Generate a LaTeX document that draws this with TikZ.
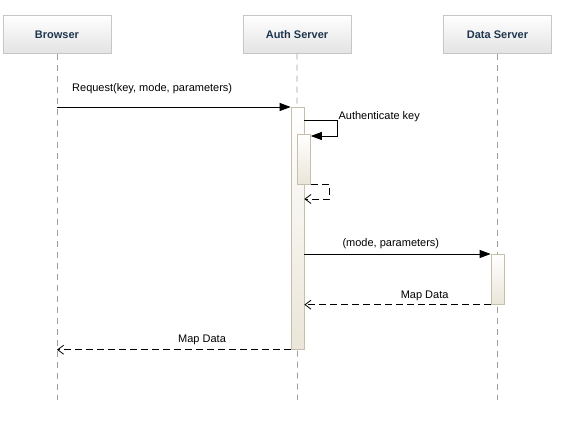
\documentclass[tikz,border=0pt]{standalone}
\usepackage{fontspec}
\setmainfont{Liberation Sans}
\usetikzlibrary{arrows.meta}
\usetikzlibrary{calc}
\usetikzlibrary{positioning}
\definecolor{headborder}{rgb}{0.78, 0.78, 0.78}
\definecolor{headbottom}{rgb}{0.89, 0.89, 0.89}
\definecolor{headtext}{rgb}{0.12, 0.21, 0.31}
\definecolor{barborder}{rgb}{0.78, 0.75, 0.68}
\definecolor{barbottom}{rgb}{0.92, 0.90, 0.85}
\definecolor{lifegrey}{rgb}{0.62, 0.62, 0.62}

\begin{document}
\begin{tikzpicture}[x=1pt, y=-1pt,
	header/.style={draw=headborder, top color=white, bottom color=headbottom, minimum width=108pt, minimum height=38pt, inner sep=0pt, text=headtext, font=\fontsize{11}{13}\selectfont\bfseries},
	lifeline/.style={lifegrey, line width=0.7pt, dash pattern=on 6pt off 5pt},
	actbar/.style={draw=barborder, line width=0.7pt, top color=white, bottom color=barbottom, minimum width=13pt, inner sep=0pt, anchor=north},
	msg/.style={black, line width=0.8pt, -{Triangle[length=11pt, width=8pt]}},
	reply/.style={black, line width=0.8pt, dash pattern=on 7pt off 4pt, -{Straight Barb[length=6pt, width=9pt]}},
	lbl/.style={inner sep=0pt, font=\fontsize{11}{13}\selectfont}]
					\useasboundingbox (0,0) rectangle (571,435);
					
					% participants
					\node[header] (browser) at (57,34.5) {Browser};
					\node[header] (auth) at (297,34.5) {Auth Server};
					\node[header] (data) at (497.5,34.5) {Data Server};
					
					\coordinate (browserend) at (57,400);
					\coordinate (authend) at (297.5,400);
					\coordinate (dataend) at (497.5,400);
					\draw[lifeline] (browser.south) -- (browserend);
					\draw[lifeline] (auth.south) -- (authend);
					\draw[lifeline] (data.south) -- (dataend);
					
					% activations
					\node[actbar, minimum height=242pt] (auth1) at (297.5,107) {};
					\node[actbar, minimum height=50pt] (auth2) at (304,134) {};
					\node[actbar, minimum height=50pt] (data1) at (497.5,254) {};
					
					% Request
					\draw[msg] (browser.south |- auth1.north west) -- (auth1.north west);
					\node[lbl, anchor=base west] (lrequest) at ($(browser.south |- auth1.north west)+(15,-15)$) {Request(key, mode, parameters)};
					
					% self call
					\coordinate (selfout) at ($(auth1.north east)+(0,13)$);
					\draw[msg] (selfout) -- ++(33,0) coordinate (selfcorner) |- ($(auth2.north east)+(0,2)$);
					\node[lbl, anchor=base west] (lauth) at ($(selfcorner)+(1,0)$) {Authenticate key};
					
					\coordinate (retmark) at (0,199);
					\draw[reply] (auth2.south east) -- ++(19,0) |- (auth1.east |- retmark);
					
					% to data server
					\draw[msg] (auth1.east |- data1.north west) -- (data1.north west);
					\node[lbl, anchor=base west] (lmode) at ($(auth1.east |- data1.north west)+(38,-7)$) {(mode, parameters)};
					
					\draw[reply] (data1.south west) -- (auth1.east |- data1.south west);
					\node[lbl, anchor=base east] (ldata) at ($(data1.south west)+(-42,-6)$) {Map Data};
					
					% back to browser
					\draw[reply] (auth1.south west) -- (browser.south |- auth1.south west);
					\node[lbl, anchor=base west] (lbrowser) at ($(browser.south |- auth1.south west)+(121,-7)$) {Map Data};
					
\end{tikzpicture}
\end{document}
